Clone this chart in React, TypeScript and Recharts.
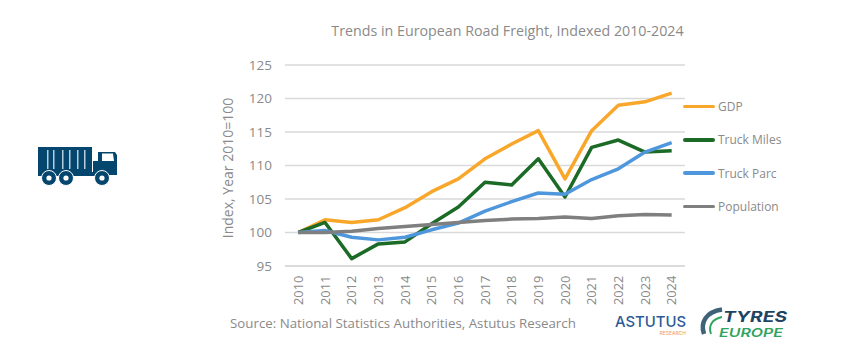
import { LineChart, Line, XAxis, YAxis, CartesianGrid } from "recharts";

const YEARS = ["2010", "2011", "2012", "2013", "2014", "2015", "2016", "2017", "2018", "2019", "2020", "2021", "2022", "2023", "2024"];
const GDP = [100, 101.9, 101.5, 101.9, 103.7, 106.1, 108, 111, 113.2, 115.2, 108, 115.2, 119, 119.5, 120.8];
const TRUCK_MILES = [100, 101.5, 96.1, 98.3, 98.6, 101.3, 103.8, 107.5, 107.1, 111, 105.3, 112.7, 113.8, 112, 112.2];
const TRUCK_PARC = [100, 100.3, 99.3, 98.9, 99.3, 100.4, 101.4, 103.2, 104.6, 105.9, 105.7, 107.9, 109.5, 112, 113.4];
const POPULATION = [100, 100, 100.2, 100.6, 100.9, 101.2, 101.5, 101.8, 102, 102.1, 102.3, 102.1, 102.5, 102.7, 102.6];
const Y_TICKS = [95, 100, 105, 110, 115, 120, 125];

const SERIES = [
  { name: "GDP", color: "#f9a72b" },
  { name: "Truck Miles", color: "#1b6a25" },
  { name: "Truck Parc", color: "#4f97dc" },
  { name: "Population", color: "#7f7f7f" },
];

const data = YEARS.map((year, i) => ({
  year,
  GDP: GDP[i],
  "Truck Miles": TRUCK_MILES[i],
  "Truck Parc": TRUCK_PARC[i],
  Population: POPULATION[i],
}));

const FONT = "'Open Sans', sans-serif";
const GREY = "#8a8a8a";

function YearTick({ x, y, payload }: any) {
  return (
    <text x={x} y={y + 31} transform={`rotate(-90 ${x} ${y + 31})`} dy={4.5} fontSize={12.8} fill={GREY} fontFamily={FONT}>
      {payload.value}
    </text>
  );
}

function SideLegend() {
  return (
    <div style={{ position: "absolute", left: 683, top: 96.5 }}>
      {SERIES.map((s, i) => (
        <div key={s.name} style={{ position: "absolute", left: 0, top: i * 33.3, width: 160, height: 20, display: "flex", alignItems: "center" }}>
          <span style={{ width: 32, height: 3.5, borderRadius: 2, background: s.color, marginRight: 3 }} />
          <span style={{ fontSize: 12, color: GREY, fontFamily: FONT, whiteSpace: "nowrap" }}>{s.name}</span>
        </div>
      ))}
    </div>
  );
}

function TruckIcon() {
  const c = "#05466e";
  return (
    <svg width={84} height={44} viewBox="0 0 84 44" style={{ position: "absolute", left: 36, top: 146 }}>
      <rect x={2} y={1} width={54} height={25} fill={c} />
      {[11, 17, 26, 33, 41, 48].map((x) => (
        <rect key={x} x={x} y={4} width={1.5} height={19} fill="#b9cedb" />
      ))}
      <rect x={2} y={26} width={62} height={4} fill={c} />
      <rect x={57} y={15} width={6} height={11} fill={c} />
      <path d="M62 6 H79 L81 9 V29 H62 Z" fill={c} />
      <path d="M66 7.5 H77 L78 15 H66 Z" fill="#fff" />
      {[13, 30, 66].map((x) => (
        <g key={x}>
          <circle cx={x} cy={32} r={7.5} fill={c} stroke="#fff" strokeWidth={1} />
          <circle cx={x} cy={32} r={2.6} fill="#fff" />
        </g>
      ))}
    </svg>
  );
}

function Logos() {
  return (
    <svg width={240} height={50} viewBox="0 0 240 50" style={{ position: "absolute", left: 600, top: 300 }}>
      <text x={15} y={27} fontSize={15} fontWeight={500} fill="#2c5a96" fontFamily="Inter, sans-serif" textLength={71} lengthAdjust="spacingAndGlyphs">ASTUTUS</text>
      <text x={86} y={34.5} fontSize={5} textAnchor="end" fill="#ef9a50" fontFamily="Inter, sans-serif">RESEARCH</text>
      <path d="M104 34 C100 22 106 12 122 9.5" fill="none" stroke="#3f6278" strokeWidth={4.5} />
      <path d="M111 34 C108 26 112 19 122 17" fill="none" stroke="#2fa45e" strokeWidth={2} />
      <text x={123} y={21.5} fontSize={15} fontWeight={700} fontStyle="italic" fill="#1f4463" fontFamily="Inter, sans-serif" textLength={64} lengthAdjust="spacingAndGlyphs">TYRES</text>
      <text x={119} y={36.5} fontSize={12} fontWeight={600} fontStyle="italic" fill="#2fa45e" fontFamily="Inter, sans-serif" textLength={64} lengthAdjust="spacingAndGlyphs">EUROPE</text>
    </svg>
  );
}

export default function App() {
  return (
    <div style={{ position: "absolute", left: 0, top: 0, width: 844, height: 354, background: "#fff", overflow: "hidden" }}>
      <LineChart width={844} height={354} data={data} margin={{ top: 65, right: 159, bottom: 0, left: 0 }}>
        <CartesianGrid vertical={false} stroke="#d9d9d9" strokeWidth={1.3} />
        <XAxis dataKey="year" scale="band" interval={0} height={88} axisLine={{ stroke: "#d9d9d9", strokeWidth: 1.3 }} tickLine={false} tick={<YearTick />} />
        <YAxis
          width={285}
          domain={[95, 125]}
          ticks={Y_TICKS}
          axisLine={false}
          tickLine={false}
          tickMargin={7}
          tick={{ fontSize: 13.5, fill: GREY, fontFamily: FONT }}
        />
        {SERIES.map((s) => (
          <Line key={s.name} dataKey={s.name} stroke={s.color} strokeWidth={3.5} dot={false} type="linear" strokeLinejoin="round" isAnimationActive={false} />
        ))}
        <text x={507.5} y={36} textAnchor="middle" fontSize={14.25} fill={GREY} fontFamily={FONT}>
          Trends in European Road Freight, Indexed 2010-2024
        </text>
        <text x={233} y={168} textAnchor="middle" transform="rotate(-90 233 168)" fontSize={14} fill={GREY} fontFamily={FONT}>
          Index, Year 2010=100
        </text>
        <text x={230} y={328} fontSize={13.3} fill={GREY} fontFamily={FONT}>
          Source: National Statistics Authorities, Astutus Research
        </text>
      </LineChart>
      <SideLegend />
      <TruckIcon />
      <Logos />
    </div>
  );
}
